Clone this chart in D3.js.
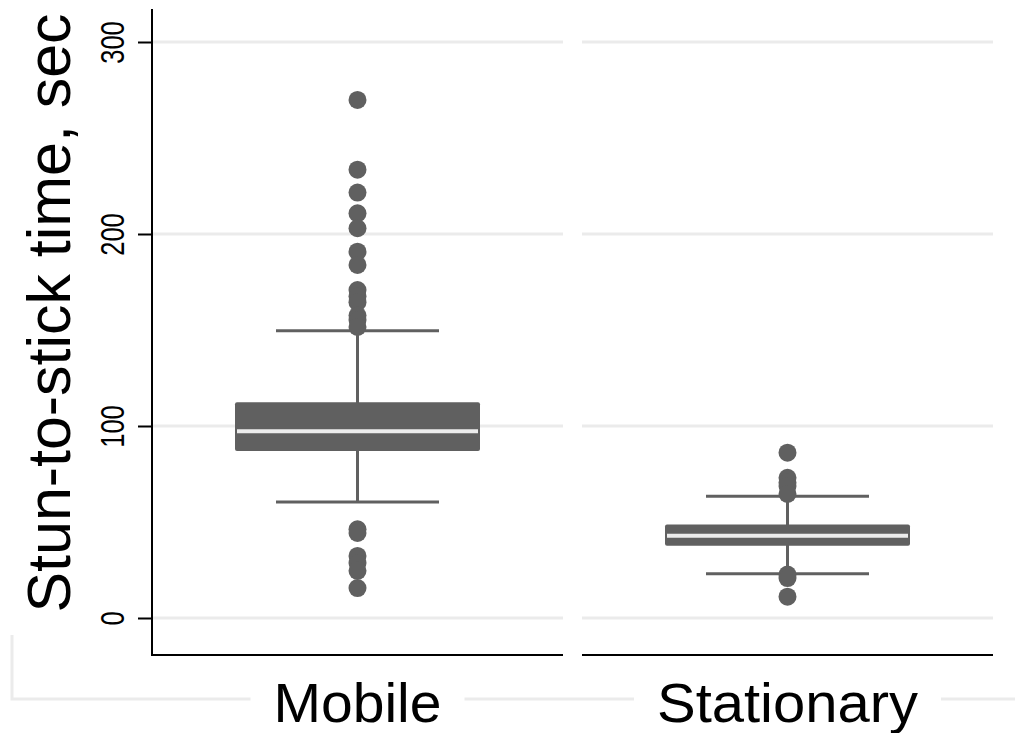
<!DOCTYPE html>
<html>
<head>
<meta charset="utf-8">
<script src="https://cdn.jsdelivr.net/npm/d3@7"></script>
<style>
  body { margin: 0; background: #fff; }
  text { font-family: "Liberation Sans", Arial, sans-serif; }
</style>
</head>
<body>
<svg id="chart" width="1015" height="733"></svg>
<script>
// box summaries (seconds)
var groups = ['Mobile', 'Stationary'];
var q1 = [87, 37.6];
var medians = [97.3, 42.9];
var q3 = [112.4, 48.7];
var whiskerLow = [60.4, 23.1];
var whiskerHigh = [149.6, 63.4];
var outliersMobile = [269.8, 233.5, 221.6, 210.8, 203, 190.8, 183.9,
                      170.8, 167.5, 164.5, 157.5, 155.2, 151.6,
                      46.2, 44.3, 32.3, 28.6, 24.6, 15.6];
var outliersStationary = [86.1, 73, 70.5, 68.8, 64.6, 22.6, 20.8, 11.1];
var outliers = [outliersMobile, outliersStationary];
var yTicks = [0, 100, 200, 300];

var grey = '#606060', gridColor = '#ebebeb';
var svg = d3.select('#chart');

var y = d3.scaleLinear().domain([0, 300]).range([618, 42]);
var panel = d3.scaleBand().domain(groups).range([152, 993]).paddingInner(19 / 430);
var boxHalf = 122.5, capHalf = 81.5;

// outer light frame, broken by the category labels
var frame = svg.append('g').attr('stroke', gridColor).attr('stroke-width', 3).attr('fill', 'none');
frame.append('path').attr('d', 'M12,635V699H1015');

// grid lines per panel
groups.forEach(g => {
    svg.append('g')
        .selectAll('line')
        .data(yTicks)
        .join('line')
        .attr('x1', panel(g)).attr('x2', panel(g) + panel.bandwidth())
        .attr('y1', d => y(d)).attr('y2', d => y(d))
        .attr('stroke', gridColor).attr('stroke-width', 3);
});

// y axis
var yAxis = svg.append('g')
    .attr('transform', 'translate(152,0)')
    .call(d3.axisLeft(y).tickValues(yTicks).tickSize(14).tickSizeOuter(0).tickFormat(d3.format('d')));
yAxis.select('.domain').remove();
yAxis.selectAll('.tick line').attr('stroke', '#000').attr('stroke-width', 2);
yAxis.selectAll('.tick text').remove();
// tick labels are narrow in the original, squeeze along the text direction
yAxis.selectAll('.tick').append('text')
    .attr('transform', 'translate(-28,0) rotate(-90) scale(0.75,1)')
    .attr('text-anchor', 'middle')
    .attr('fill', '#000')
    .style('font-size', '34px')
    .text(d => d);
svg.append('line')
    .attr('x1', 152).attr('x2', 152).attr('y1', 9).attr('y2', 656)
    .attr('stroke', '#000').attr('stroke-width', 2);

svg.append('text')
    .attr('transform', 'translate(70,313) rotate(-90)')
    .attr('text-anchor', 'middle')
    .attr('font-size', 61)
    .attr('textLength', 599)
    .attr('lengthAdjust', 'spacingAndGlyphs')
    .text('Stun-to-stick time, sec');

// bottom axis line per panel
svg.append('g')
    .selectAll('line')
    .data(groups)
    .join('line')
    .attr('x1', d => panel(d) - (d === groups[0] ? 1 : 0))
    .attr('x2', d => panel(d) + panel.bandwidth())
    .attr('y1', 655).attr('y2', 655)
    .attr('stroke', '#000').attr('stroke-width', 2);

// category labels with a white backing that cuts the frame line
var labelLen = [168, 261];
groups.forEach((g, i) => {
    var cx = panel(g) + panel.bandwidth() / 2;
    svg.append('rect')
        .attr('x', cx - labelLen[i] / 2 - 23).attr('y', 690)
        .attr('width', labelLen[i] + 46).attr('height', 18)
        .attr('fill', '#fff');
    svg.append('text')
        .attr('x', cx).attr('y', 722)
        .attr('text-anchor', 'middle')
        .attr('font-size', 56)
        .attr('textLength', labelLen[i])
        .attr('lengthAdjust', 'spacingAndGlyphs')
        .text(g);
});

// boxes
groups.forEach((g, i) => {
    var cx = panel(g) + panel.bandwidth() / 2;
    var gg = svg.append('g');
    gg.append('line')
        .attr('x1', cx).attr('x2', cx)
        .attr('y1', y(whiskerHigh[i])).attr('y2', y(whiskerLow[i]))
        .attr('stroke', grey).attr('stroke-width', 3);
    gg.selectAll('line.cap')
        .data([whiskerLow[i], whiskerHigh[i]])
        .join('line')
        .attr('class', 'cap')
        .attr('x1', cx - capHalf).attr('x2', cx + capHalf)
        .attr('y1', d => y(d)).attr('y2', d => y(d))
        .attr('stroke', grey).attr('stroke-width', 3);
    gg.append('rect')
        .attr('x', cx - boxHalf).attr('width', boxHalf * 2)
        .attr('y', y(q3[i])).attr('height', y(q1[i]) - y(q3[i]))
        .attr('rx', 2)
        .attr('fill', grey);
    gg.append('line')
        .attr('x1', cx - boxHalf + 2).attr('x2', cx + boxHalf - 2)
        .attr('y1', y(medians[i])).attr('y2', y(medians[i]))
        .attr('stroke', '#ececec').attr('stroke-width', 4);
    gg.selectAll('circle')
        .data(outliers[i])
        .join('circle')
        .attr('cx', cx).attr('cy', d => y(d))
        .attr('r', 9)
        .attr('fill', grey);
});
</script>
</body>
</html>
